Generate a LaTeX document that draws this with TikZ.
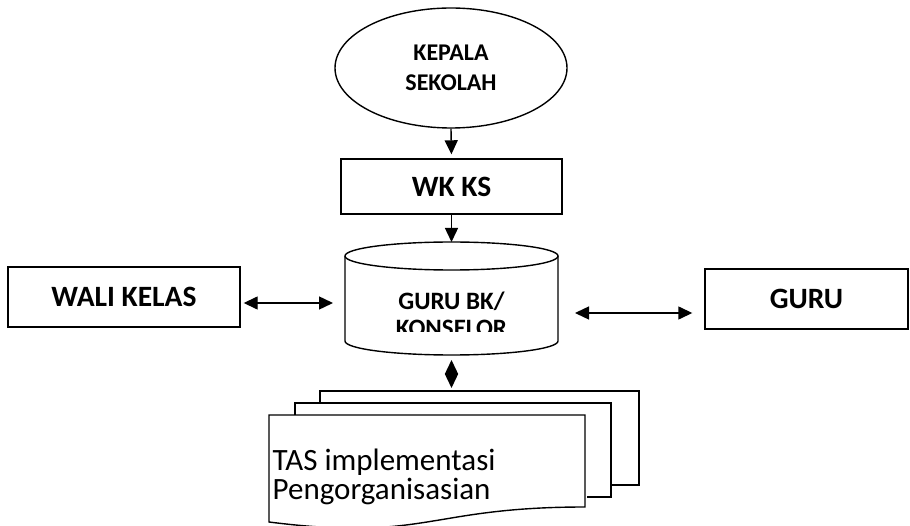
\documentclass[tikz,border=0pt]{standalone}
\usepackage{fontspec}
\setmainfont{Carlito}
\usetikzlibrary{shapes.geometric,arrows.meta,calc}

\begin{document}
\begin{tikzpicture}[x=1pt, y=-1pt, line width=1.4pt,
  >={Triangle[length=14pt,width=13pt]}]
\tikzset{
  boxLabel/.style={draw, rectangle, inner sep=0pt, align=center,
    font=\fontsize{29.5}{30}\selectfont\bfseries},
  bodyBox/.style={inner sep=0pt, outer sep=0pt}
}
\useasboundingbox (0,0) rectangle (910,526);
\clip (0,0) rectangle (910,526);

% --- top: kepala sekolah and wakil ----------------------------------------
\node (kepala) [draw, ellipse, inner sep=0pt, minimum width=232pt, minimum height=120pt,
  align=center, font=\fontsize{24}{30}\selectfont\bfseries] at (451,68) {KEPALA\\SEKOLAH};
\node (wkks) [boxLabel, minimum width=221pt, minimum height=55pt] at (451.5,186.5) {WK KS};

% --- middle row ---------------------------------------------------------------
\node (wali) [boxLabel, minimum width=232pt, minimum height=60pt] at (124,297) {WALI KELAS};
\node (guru) [boxLabel, minimum width=203pt, minimum height=60pt] at (806.5,299) {GURU};

% cylinder
\node (gurubk) [bodyBox, minimum width=213pt, minimum height=113pt] at (451.5,298.5) {};
\draw ([yshift=-14pt]gurubk.north) ellipse [x radius=106.5pt, y radius=14pt];
\draw ([yshift=-14pt]gurubk.north west) -- ([yshift=14pt]gurubk.south west)
  arc [start angle=180, end angle=360, x radius=106.5pt, y radius=14pt]
  -- ([yshift=-14pt]gurubk.north east);
\begin{scope}
  \clip (345,270) rectangle (558,332);
  \node (bklabel) [inner sep=0pt, align=center, font=\fontsize{25}{27}\selectfont\bfseries]
    at (451.5,314) {GURU BK/\\KONSELOR};
\end{scope}

% --- documents ------------------------------------------------------------------
\coordinate (backtop) at (451.5,391);
\draw (320,403) -- (320,391) -- (639,391) -- (639,485) -- (611,485);
\draw (295,415) -- (295,403) -- (611,403) -- (611,497) -- (587,497);
\node (docs) [bodyBox, minimum width=316pt, minimum height=115pt] at (427,472.5) {};
\draw (docs.north west) -- (docs.north east) -- ($(docs.north east)+(0,92)$)
  .. controls ($(docs.north)+(0,92)$) and ($(docs.north)+(0,127)$) ..
  ($(docs.north west)+(0,107)$) -- cycle;
\node (doctext) [anchor=west, inner sep=0pt, align=left, font=\fontsize{31}{29}\selectfont]
  at (272,477) {TAS implementasi\\Pengorganisasian};

% --- connectors -----------------------------------------------------------------
\draw[->, shorten >=4pt] (kepala.south) -- (wkks.north);
\draw[->] (wkks.south) -- (gurubk.north);
\draw[<->] ([shift={(3,6)}]wali.east) -- ([shift={(-12,4.5)}]gurubk.west);
\draw[<->] ([shift={(17,14.5)}]gurubk.east) -- ([shift={(-12,14)}]guru.west);
\draw[<->, shorten <=5pt, shorten >=3pt] (gurubk.south) -- (backtop);
\end{tikzpicture}
\end{document}
